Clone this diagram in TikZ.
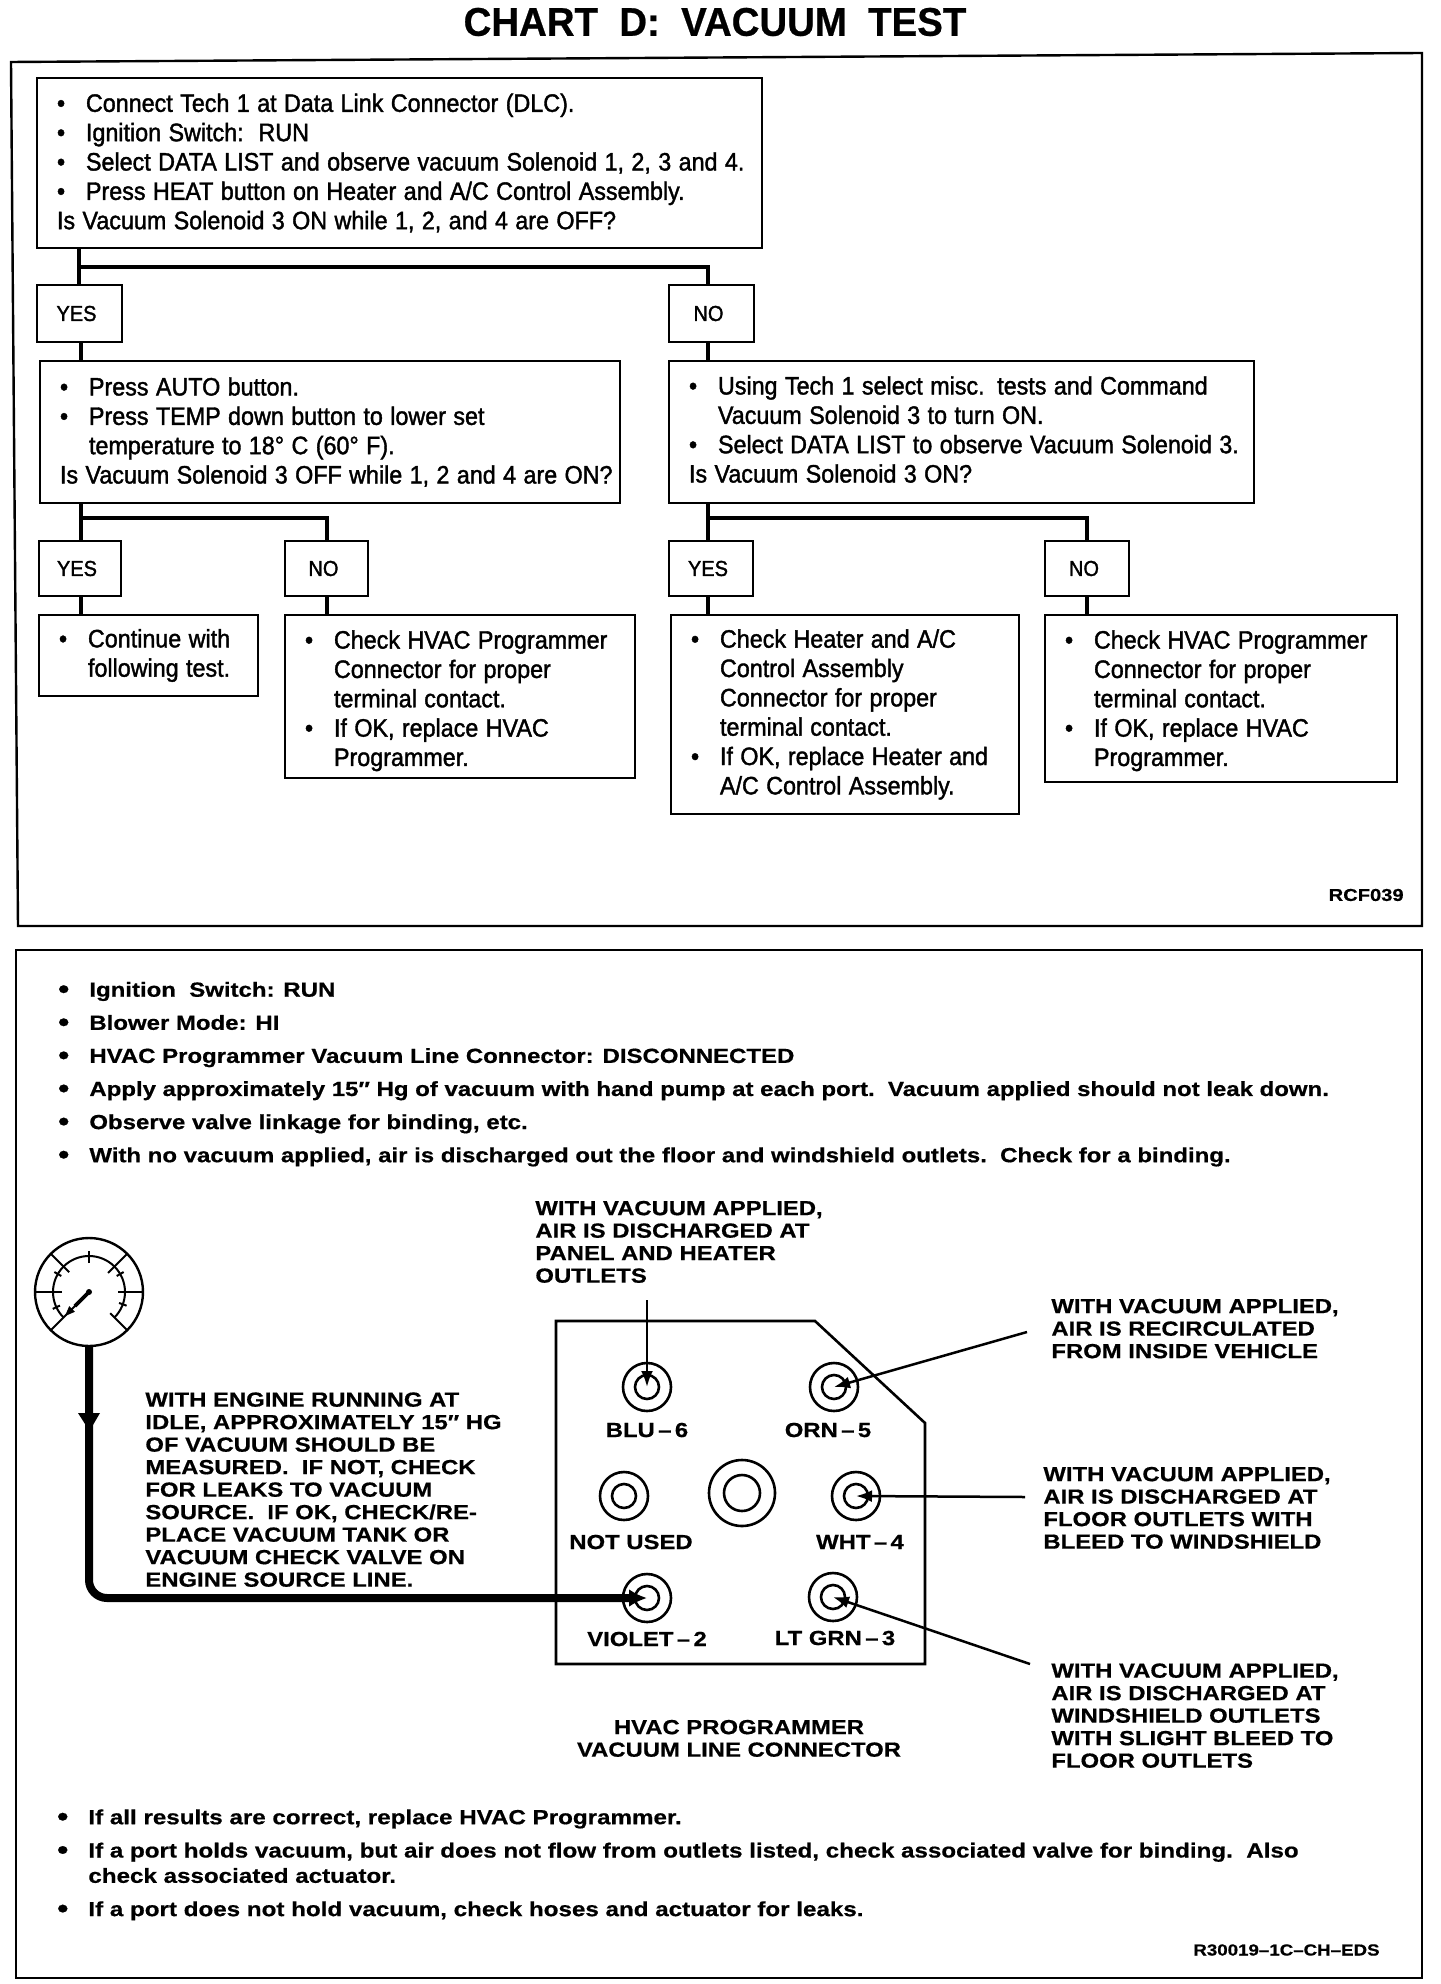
\documentclass[tikz,border=0pt]{standalone}
\usepackage{fontspec}
\usetikzlibrary{arrows.meta,calc}
\newfontfamily\chartfont[FakeStretch=0.925,FakeBold=1.5]{Liberation Sans}
\newfontfamily\titlefont[FakeStretch=0.96,FakeBold=0.6]{Liberation Sans Bold}
\newfontfamily\widefont[FakeStretch=1.17,FakeBold=0.6]{Liberation Sans Bold}
\newfontfamily\listfont[FakeStretch=1.175,FakeBold=0.6]{Liberation Sans Bold}
\newfontfamily\listbfont[FakeStretch=1.185,FakeBold=0.6]{Liberation Sans Bold}
\newcommand\tight{\spaceskip=3.7pt\relax}
\newcommand\bul[1]{\mbox{\tight\makebox[14.5pt][l]{\textbullet}#1}}
\newcommand\cont[1]{\mbox{\tight\hspace*{14.5pt}#1}}
\newcommand\pl[1]{\mbox{\tight #1}}
\newcommand\lowertop[1]{\rule{0pt}{#1}}
\newcommand\wbul[1]{\mbox{\makebox[15pt][l]{\hspace*{-0.6pt}\fontsize{13.5}{13.5}\selectfont\raisebox{-0.7pt}{\textbullet}}#1}}
\tikzset{
  chartbox/.style={draw=black,line width=1.35pt,inner sep=0pt,align=left,
    font=\fontsize{12.6}{14.67}\selectfont\chartfont},
  answer/.style={draw=black,line width=1.35pt,inner sep=0pt,align=center,
    font=\fontsize{10.8}{13}\selectfont\chartfont},
  conn/.style={line width=2pt,draw=black},
  frame/.style={line width=1.2pt,draw=black,line join=miter},
  plate/.style={line width=1.3pt,draw=black},
  wide/.style={inner sep=0pt,align=left,font=\fontsize{10.2}{11.25}\selectfont\widefont},
  listtext/.style={inner sep=0pt,align=left,font=\fontsize{10.2}{16.55}\selectfont\listfont},
  portlabel/.style={inner sep=0pt,font=\fontsize{10.2}{12}\selectfont\widefont},
  porto/.style={circle,draw=black,line width=1.3pt,inner sep=0pt},
  lead/.style={line width=1.25pt,draw=black,-{Latex[length=8pt,width=6pt]}},
  pipe/.style={line width=4pt,draw=black,rounded corners=9pt,-{Latex[length=9pt,width=9pt]}},
  gaugeline/.style={line width=1pt,draw=black}
}
\newcommand\bx[6]{%
  \pgfmathsetlengthmacro\bxw{(#4-#2)*0.5pt}%
  \pgfmathsetlengthmacro\bxh{(#5-#3)*0.5pt}%
  \pgfmathsetlengthmacro\bxt{(#4-#2)*0.5pt-20pt}%
  \node[chartbox,minimum width=\bxw,minimum height=\bxh,text width=\bxt] (#1) at ({(#2+#4)/2},{(#3+#5)/2}) {#6};}
\newcommand\ans[6]{%
  \pgfmathsetlengthmacro\bxw{(#4-#2)*0.5pt}%
  \pgfmathsetlengthmacro\bxh{(#5-#3)*0.5pt}%
  \node[answer,minimum width=\bxw,minimum height=\bxh] (#1) at ({(#2+#4)/2},{(#3+#5)/2}) {\hspace*{-3pt}#6};}
\begin{document}
\begin{tikzpicture}[x=0.5pt,y=-0.5pt]
\useasboundingbox (0,0) rectangle (1440,1984);
% title
\node[inner sep=0pt,font=\fontsize{20}{22}\selectfont\titlefont] (title) at (715,22) {CHART\ \ D:\ \ VACUUM\ \ TEST};
% frames
\draw[frame] (11,62) -- (1422,53) -- (1422,926) -- (18,926) -- cycle;
\draw[frame] (16,950) -- (1422,950) -- (1422,1978) -- (16,1978) -- cycle;
% boxes
\bx{boxA}{37}{78}{762}{248}{\bul{Connect Tech 1 at Data Link Connector (DLC).}\\\bul{Ignition Switch:\ \ RUN}\\\bul{Select DATA LIST and observe vacuum Solenoid 1, 2, 3 and 4.}\\\bul{Press HEAT button on Heater and A/C Control Assembly.}\\\pl{Is Vacuum Solenoid 3 ON while 1, 2, and 4 are OFF?}}
\ans{yesA}{37}{285}{122}{342}{YES}
\ans{noA}{669}{285}{754}{342}{NO}
\bx{boxB}{40}{361}{620}{503}{\bul{Press AUTO button.}\\\bul{Press TEMP down button to lower set}\\\cont{temperature to 18° C (60° F).}\\\pl{Is Vacuum Solenoid 3 OFF while 1, 2 and 4 are ON?}}
\bx{boxC}{669}{361}{1254}{503}{\bul{Using Tech 1 select misc. tests and Command}\\\cont{Vacuum Solenoid 3 to turn ON.}\\\bul{Select DATA LIST to observe Vacuum Solenoid 3.}\\\pl{Is Vacuum Solenoid 3 ON?\rule[-2.6pt]{0pt}{2.6pt}}}
\ans{yesB}{39}{541}{121}{596}{YES}
\ans{noB}{285}{541}{368}{596}{NO}
\ans{yesC}{669}{541}{753}{596}{YES}
\ans{noC}{1045}{541}{1129}{596}{NO}
\bx{boxD}{39}{615}{258}{696}{\bul{Continue with}\\\cont{following test.}}
\bx{boxE}{285}{615}{635}{778}{\lowertop{13.4pt}\bul{Check HVAC Programmer}\\\cont{Connector for proper}\\\cont{terminal contact.}\\\bul{If OK, replace HVAC}\\\cont{Programmer.}}
\bx{boxF}{671}{615}{1019}{814}{\bul{Check Heater and A/C}\\\cont{Control Assembly}\\\cont{Connector for proper}\\\cont{terminal contact.}\\\bul{If OK, replace Heater and}\\\cont{A/C Control Assembly.}}
\bx{boxG}{1045}{615}{1397}{782}{\lowertop{11.4pt}\bul{Check HVAC Programmer}\\\cont{Connector for proper}\\\cont{terminal contact.}\\\bul{If OK, replace HVAC}\\\cont{Programmer.}}
% connectors
\coordinate (jA) at (79,267);
\coordinate (jB) at (81,518);
\coordinate (jC) at (708,518);
\draw[conn] (boxA.south -| jA) -- (jA) -- (yesA.north -| jA);
\draw[conn] (jA) -| (noA.north -| jC);
\draw[conn] (yesA.south -| jB) -- (boxB.north -| jB);
\draw[conn] (noA.south -| jC) -- (boxC.north -| jC);
\draw[conn] (boxB.south -| jB) -- (yesB.north -| jB);
\draw[conn] (jB) -| (noB.north);
\draw[conn] (boxC.south -| jC) -- (yesC.north -| jC);
\draw[conn] (jC) -| (noC.north);
\draw[conn] (yesB.south -| jB) -- (boxD.north -| jB);
\draw[conn] (noB.south) -- (boxE.north -| noB.south);
\draw[conn] (yesC.south -| jC) -- (boxF.north -| jC);
\draw[conn] (noC.south) -- (boxG.north -| noC.south);
\node[inner sep=0pt,anchor=east,font=\fontsize{8.6}{10}\selectfont\widefont] (refA) at (1404,895) {RCF039};
% list 1
\node[listtext,anchor=north west] (listA) at (59,981.5) {\wbul{Ignition\ \ Switch: RUN}\\\wbul{Blower Mode: HI}\\\wbul{HVAC Programmer Vacuum Line Connector: DISCONNECTED}\\\wbul{Apply approximately 15″ Hg of vacuum with hand pump at each port.\ \ Vacuum applied should not leak down.}\\\wbul{Observe valve linkage for binding, etc.}\\\wbul{With no vacuum applied, air is discharged out the floor and windshield outlets.\ \ Check for a binding.}};
% gauge
\node[circle,draw=black,line width=1.2pt,minimum size=54pt,inner sep=0pt] (gauge) at (89,1292) {};
\begin{scope}[shift={(89,1292)},x=0.5pt,y=0.5pt]
  \draw[gaugeline] (-45:36) arc[start angle=-45,end angle=225,radius=36];
  \draw[gaugeline] (90:29) -- (90:41);
  \draw[gaugeline] (45:27) -- (45:54);
  \draw[gaugeline] (135:28) -- (135:54);
  \draw[gaugeline] (0:29) -- (0:54);
  \draw[gaugeline] (180:27) -- (180:54);
  \draw[gaugeline] (-45:30) -- (-45:54);
  \foreach \a in {150,205,30,-20}{\draw[gaugeline] (\a:32) -- (\a:40);}
  \draw[gaugeline] (225:3) -- (225:54);
  \draw[line width=1.8pt] (225:0) -- (225:20);
  \fill (0,0) circle[radius=3];
  \fill (225:24) ++(135:4) -- ++(-45:8) -- (225:34) -- cycle;
\end{scope}
% plate
\draw[plate] (556,1321) -- (815,1321) -- (925,1423) -- (925,1664) -- (556,1664) -- cycle;
% ports
\foreach \n/\x/\y/\ro/\ri in {blu/647/1387/24/12,orn/834/1387/24/12,unused/624/1496/24/12,hub/742/1493/33/18,wht/856/1496/24/12,vio/647/1598/24/12,grn/833/1597/24/12}{
  \node[porto,minimum size=\ro pt] (\n) at (\x,\y) {};
  \node[porto,minimum size=\ri pt] (\n in) at (\x,\y) {};
}
\node[portlabel] (lblu) at (647,1430) {BLU\,–\,6};
\node[portlabel] (lorn) at (828,1430) {ORN\,–\,5};
\node[portlabel] (lnot) at (631,1542) {NOT USED};
\node[portlabel] (lwht) at (860,1542) {WHT\,–\,4};
\node[portlabel] (lvio) at (647,1639) {VIOLET\,–\,2};
\node[portlabel] (lgrn) at (835,1638) {LT GRN\,–\,3};
% leaders
\coordinate (eblu) at (647,1300);
\coordinate (eorn) at (1027,1332);
\coordinate (ewht) at (1025,1497);
\coordinate (egrn) at (1030,1664);
\draw[lead] (eblu) -- (blu.center);
\draw[lead] (eorn) -- (orn.center);
\draw[lead] (ewht) -- (wht.center);
\draw[lead] (egrn) -- (grn.center);
% pipe
\draw[pipe] (gauge.south) |- (vio.center);
\fill (78,1413) -- (100,1413) -- (89.5,1431) -- cycle;
% callouts
\node[wide,anchor=north west] (ctop) at (535,1200.5) {WITH VACUUM APPLIED,\\AIR IS DISCHARGED AT\\PANEL AND HEATER\\OUTLETS};
\node[wide,anchor=north west] (corn) at (1051,1298.5) {WITH VACUUM APPLIED,\\AIR IS RECIRCULATED\\FROM INSIDE VEHICLE};
\node[wide,anchor=north west] (cwht) at (1043,1466.5) {WITH VACUUM APPLIED,\\AIR IS DISCHARGED AT\\FLOOR OUTLETS WITH\\BLEED TO WINDSHIELD};
\node[wide,anchor=north west] (cgrn) at (1051,1663) {WITH VACUUM APPLIED,\\AIR IS DISCHARGED AT\\WINDSHIELD OUTLETS\\WITH SLIGHT BLEED TO\\FLOOR OUTLETS};
\node[wide,anchor=north west] (ceng) at (145,1392) {WITH ENGINE RUNNING AT\\IDLE, APPROXIMATELY 15″ HG\\OF VACUUM SHOULD BE\\MEASURED.\ \ IF NOT, CHECK\\FOR LEAKS TO VACUUM\\SOURCE.\ \ IF OK, CHECK/RE-\\PLACE VACUUM TANK OR\\VACUUM CHECK VALVE ON\\ENGINE SOURCE LINE.};
\node[wide,align=center,anchor=north] (cap) at (739,1719.5) {HVAC PROGRAMMER\\VACUUM LINE CONNECTOR};
% list 2
\node[inner sep=0pt,align=left,anchor=north west,font=\fontsize{10.2}{12.65}\selectfont\listbfont] (listB) at (58,1809) {\wbul{If all results are correct, replace HVAC Programmer.}\\[4pt]\wbul{If a port holds vacuum, but air does not flow from outlets listed, check associated valve for binding.\ \ Also}\\\mbox{\hspace*{15pt}check associated actuator.}\\[4pt]\wbul{If a port does not hold vacuum, check hoses and actuator for leaks.}};
\node[inner sep=0pt,anchor=east,font=\fontsize{8}{10}\selectfont\widefont] (refB) at (1380,1950) {R30019–1C–CH–EDS};
\end{tikzpicture}
\end{document}
